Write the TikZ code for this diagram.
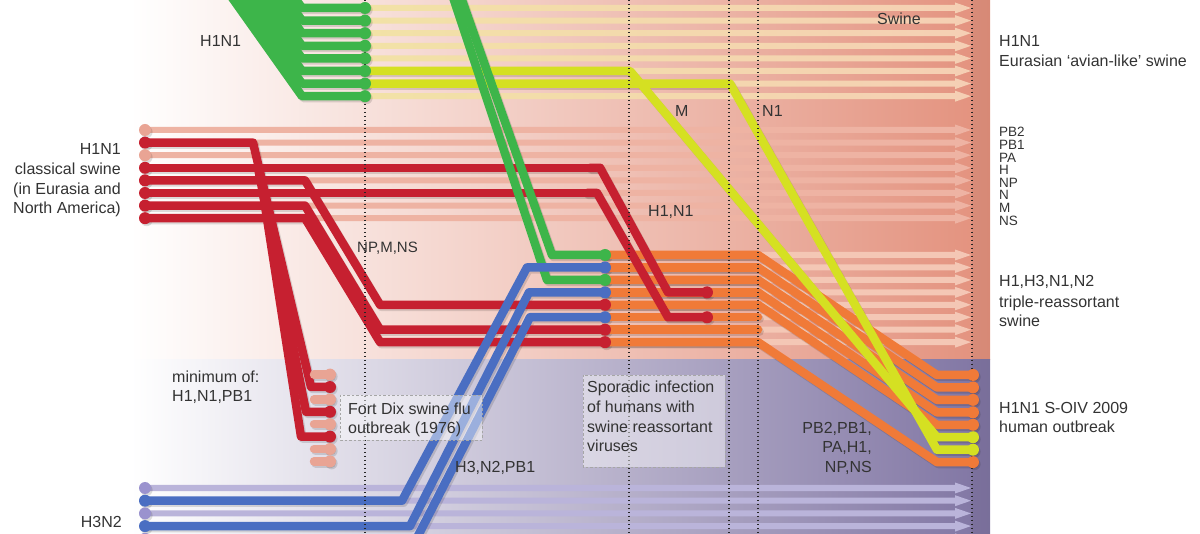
\documentclass[tikz,border=0pt]{standalone}
\usepackage{fontspec}
\setmainfont{Liberation Sans}
\definecolor{cgreen}{HTML}{3DB54A}
\definecolor{cyellow}{HTML}{D5E022}
\definecolor{cred}{HTML}{C62030}
\definecolor{cpalered}{HTML}{E9A494}
\definecolor{corange}{HTML}{F07A38}
\definecolor{cblue}{HTML}{4A6EC2}
\definecolor{cpaleblue}{HTML}{9A92CE}
\definecolor{bgup}{HTML}{E3917D}
\definecolor{bglow}{HTML}{8075A3}
\definecolor{stEa}{HTML}{F2E2A6}
\definecolor{stEb}{HTML}{F5CFB4}
\definecolor{stC}{HTML}{EEB3A3}
\definecolor{stT}{HTML}{F4C7B5}
\definecolor{stH}{HTML}{BAB4DA}
\definecolor{txt}{HTML}{333333}
\tikzset{
  seg/.style={line width=8.5pt, line join=round, line cap=round},
  linecol/.style={draw=#1},
  dotcol/.style={fill=#1},
  vdot/.style={draw=black!85, line width=1.1pt, dash pattern=on 1.4pt off 2.6pt},
  tbox/.style={draw=black!35, line width=0.8pt, dash pattern=on 2.5pt off 2pt, fill=white, fill opacity=0.45},
  lbl/.style={text=txt, font=\fontsize{16}{19}\selectfont, inner sep=0pt},
  slbl/.style={text=txt, font=\fontsize{13.5}{14}\selectfont, inner sep=0pt}
}
\newcommand\mkarrow[3]{\path[#3] (#1,#2-3) -- (955,#2-3) -- (955,#2-5.5) -- (971,#2) -- (955,#2+5.5) -- (955,#2+3) -- (#1,#2+3) -- cycle;}
\newcommand\mylines{%
 % classical swine (red)
 \draw[seg,linecol=cred] (145,142.6) -- (253,142.6) -- (311,387) -- (330,387);
 \draw[seg,linecol=cred] (258,167.8) -- (306,411.8) -- (330,411.8);
 \draw[seg,linecol=cred] (263,193) -- (301,436.6) -- (330,436.6);
 \draw[seg,linecol=cred] (145,180.4) -- (305,180.4) -- (380,304.8) -- (605,304.8);
 \draw[seg,linecol=cred] (145,205.6) -- (305,205.6) -- (380,329.7) -- (605,329.7);
 \draw[seg,linecol=cred] (145,218.2) -- (305,218.2) -- (380,342.15) -- (605,342.15);
 \draw[seg,linecol=cred] (145,167.8) -- (600,167.8);
 \draw[seg,linecol=cred] (145,193) -- (597,193);
 \foreach \yy in {374.6,399.4,424.2,449,461.4}{\draw[seg,linecol=cpalered] (314,\yy) -- (330,\yy);}
 % triple reassortant (orange)
 \foreach \k in {0,...,7}{\pgfmathsetmacro\yy{255+12.45*\k}\draw[seg,linecol=corange] (605,\yy) -- (758,\yy);}
 \foreach \k in {0,1,2,3,4,7}{\pgfmathsetmacro\yy{255+12.45*\k}\pgfmathsetmacro\yz{\yy+120}\draw[seg,linecol=corange] (605,\yy) -- (758,\yy) -- (937,\yz) -- (973,\yz);}
 % H1, N1 into triple reassortant
 \draw[seg,linecol=cred] (590,167.8) -- (600,167.8) -- (668,292.35) -- (707,292.35);
 \draw[seg,linecol=cred] (587,193) -- (597,193) -- (668,317.25) -- (707,317.25);
 % Eurasian M and N1 (yellow)
 \draw[seg,linecol=cyellow] (365,71) -- (630,71) -- (937,437.25) -- (973,437.25);
 \draw[seg,linecol=cyellow] (365,83.6) -- (730,83.6) -- (937,449.7) -- (973,449.7);
 % Eurasian avian-like (green)
 \foreach \k in {0,...,7}{\pgfmathsetmacro\yy{8+12.6*\k}\pgfmathsetmacro\xt{302-0.71*(\yy+15)}\draw[seg,linecol=cgreen] (\xt,-15) -- (302,\yy) -- (365,\yy);}
 \draw[seg,linecol=cgreen] (460.2,-5) -- (552,255) -- (605,255);
 \draw[seg,linecol=cgreen] (452.3,-5) -- (547,279.9) -- (605,279.9);
 % human H3N2 (blue)
 \draw[seg,linecol=cblue] (145,500.7) -- (402,500.7) -- (527,267.45) -- (605,267.45);
 \draw[seg,linecol=cblue] (145,526.1) -- (410,526.1) -- (529,292.35) -- (605,292.35);
 \draw[seg,linecol=cblue] (145,551.5) -- (410,551.5) -- (530,317.25) -- (605,317.25);
}
\newcommand\mydots{%
 \foreach \k in {0,...,7}{\pgfmathsetmacro\yy{8+12.6*\k}\fill[dotcol=cgreen] (365,\yy) circle[radius=6pt];}
 \foreach \k/\c in {0/cpalered,1/cred,2/cpalered,3/cred,4/cred,5/cred,6/cred,7/cred}{\pgfmathsetmacro\yy{130+12.6*\k}\fill[dotcol=\c] (145,\yy) circle[radius=6pt];}
 \foreach \yy/\c in {374.6/cpalered,387/cred,399.4/cpalered,411.8/cred,424.2/cpalered,436.6/cred,449/cpalered,461.4/cpalered}{\fill[dotcol=\c] (330,\yy) circle[radius=6pt];}
 \foreach \k/\c in {0/cgreen,1/cblue,2/cgreen,3/cblue,4/cred,5/cblue,6/cred,7/cred}{\pgfmathsetmacro\yy{255+12.45*\k}\fill[dotcol=\c] (605,\yy) circle[radius=6pt];}
 \fill[dotcol=cred] (707,292.35) circle[radius=6pt];
 \fill[dotcol=cred] (707,317.25) circle[radius=6pt];
 \foreach \k/\c in {0/corange,1/corange,2/corange,3/corange,4/corange,5/cyellow,6/cyellow,7/corange}{\pgfmathsetmacro\yy{375+12.45*\k}\fill[dotcol=\c] (973,\yy) circle[radius=6pt];}
 \foreach \k/\c in {0/cpaleblue,1/cblue,2/cpaleblue,3/cblue,4/cpaleblue,5/cblue}{\pgfmathsetmacro\yy{488+12.7*\k}\fill[dotcol=\c] (145,\yy) circle[radius=6pt];}
}
\begin{document}
\begin{tikzpicture}[x=1pt,y=-1pt]
\useasboundingbox (0,0) rectangle (1200,534);
\clip (0,0) rectangle (1200,534);
\fill[white] (0,0) rectangle (1200,534);
% backgrounds
\shade[left color=white, right color=bgup] (130,0) rectangle (990,360);
\shade[left color=white, right color=bglow] (130,360) rectangle (990,534);
\fill[black, opacity=0.05] (972,0) rectangle (990,534);
% pale lineage arrows
\foreach \k in {0,...,7}{\pgfmathsetmacro\yy{8+12.6*\k}\mkarrow{365}{\yy}{left color=stEa, right color=stEb}}
\foreach \k in {0,...,7}{\pgfmathsetmacro\yy{130+12.6*\k}\mkarrow{145}{\yy}{fill=stC}}
\foreach \k in {0,...,7}{\pgfmathsetmacro\yy{255+12.45*\k}\mkarrow{605}{\yy}{fill=stT}}
\foreach \k in {0,...,5}{\pgfmathsetmacro\yy{488+12.7*\k}\mkarrow{145}{\yy}{fill=stH}}
% shadows
\begin{scope}[transform canvas={shift={(1.6pt,-2pt)}}, linecol/.style={draw=black, draw opacity=0.13}, dotcol/.style={fill=black, fill opacity=0.13}]
\mylines
\mydots
\end{scope}
% lines
\begin{scope}[linecol/.style={draw=#1}]
\mylines
\end{scope}
% dotted time lines
\foreach \xx in {365,629,729,758,972}{\draw[vdot] (\xx,0) -- (\xx,534);}
% dots
\begin{scope}[dotcol/.style={fill=#1}]
\mydots
\end{scope}
% boxes
\draw[tbox] (340,395) rectangle (482,440);
\draw[tbox] (583,375) rectangle (725,467);
% labels
\node[lbl, anchor=base west] (tE1) at (200,47) {H1N1};
\node[lbl, anchor=base east] (tC1) at (121,155) {H1N1};
\node[lbl, anchor=base east] (tC2) at (121,175) {classical swine};
\node[lbl, anchor=base east] (tC3) at (121,194.5) {(in Eurasia and};
\node[lbl, anchor=base east] (tC4) at (121,214) {North America)};
\node[lbl, anchor=base west] (tSw) at (877,25) {Swine};
\node[lbl, anchor=base west] (tM) at (675,117) {M};
\node[lbl, anchor=base west] (tN1) at (762,117) {N1};
\node[lbl, anchor=base west, font=\fontsize{15}{17}\selectfont] (tNP) at (357,253) {NP,M,NS};
\node[lbl, anchor=base west] (tHN) at (648,217) {H1,N1};
\node[lbl, anchor=base west] (tR1) at (999,47) {H1N1};
\node[lbl, anchor=base west] (tR2) at (999,67) {Eurasian ‘avian-like’ swine};
\foreach \s [count=\i from 0] in {PB2,PB1,PA,H,NP,N,M,NS}{\pgfmathsetmacro\yy{137+12.6*\i}\node[slbl, anchor=base west] (tS\i) at (999,\yy) {\s};}
\node[lbl, anchor=base west] (tT1) at (999,287) {H1,H3,N1,N2};
\node[lbl, anchor=base west] (tT2) at (999,308) {triple-reassortant};
\node[lbl, anchor=base west] (tT3) at (999,327) {swine};
\node[lbl, anchor=base west] (tO1) at (999,414) {H1N1 S-OIV 2009};
\node[lbl, anchor=base west] (tO2) at (999,433) {human outbreak};
\node[lbl, anchor=base west] (tMi1) at (172,383) {minimum of:};
\node[lbl, anchor=base west] (tMi2) at (172,402) {H1,N1,PB1};
\node[lbl, anchor=base west] (tFD1) at (348,415) {Fort Dix swine flu};
\node[lbl, anchor=base west] (tFD2) at (348,434) {outbreak (1976)};
\node[lbl, anchor=base west] (tSp1) at (587,393) {Sporadic infection};
\node[lbl, anchor=base west] (tSp2) at (587,413) {of humans with};
\node[lbl, anchor=base west] (tSp3) at (587,433) {swine reassortant};
\node[lbl, anchor=base west] (tSp4) at (587,452) {viruses};
\node[lbl, anchor=base west] (tH3) at (455,473) {H3,N2,PB1};
\node[lbl, anchor=base east] (tP1) at (872,434) {PB2,PB1,};
\node[lbl, anchor=base east] (tP2) at (872,453) {PA,H1,};
\node[lbl, anchor=base east] (tP3) at (872,473) {NP,NS};
\node[lbl, anchor=base east] (tH3N2) at (122,527) {H3N2};
\end{tikzpicture}
\end{document}
